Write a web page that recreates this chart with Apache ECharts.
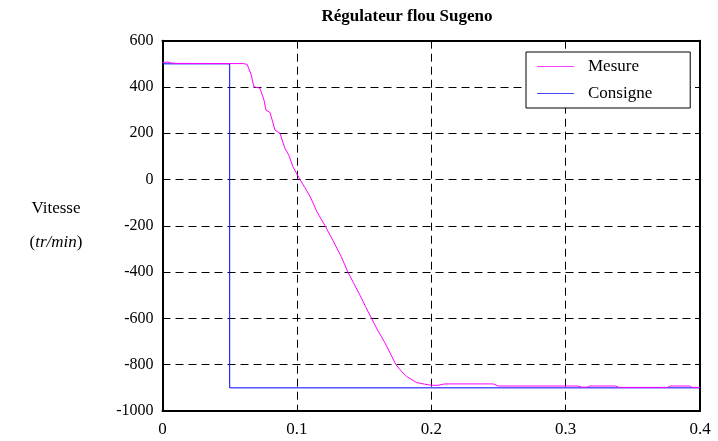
<!DOCTYPE html>
<html>
<head>
<meta charset="utf-8">
<script src="https://cdn.jsdelivr.net/npm/echarts@6/dist/echarts.min.js"></script>
<style>html,body{margin:0;padding:0;background:#fff;}#c{width:718px;height:441px;}</style>
</head>
<body>
<div id="c"></div>
<script>
const titleText = 'Régulateur flou Sugeno';
const xTicks = [0, 0.1, 0.2, 0.3, 0.4];
const yTicks = [-1000, -800, -600, -400, -200, 0, 200, 400, 600];
const mesureT = [0, 0.004, 0.006, 0.01, 0.06, 0.063, 0.066, 0.068, 0.0725, 0.0755, 0.077, 0.080, 0.0837, 0.0874, 0.091, 0.094, 0.097, 0.1023, 0.106, 0.110, 0.115, 0.121, 0.127, 0.133, 0.138, 0.142, 0.147, 0.151, 0.1556, 0.160, 0.165, 0.169, 0.1737, 0.1780, 0.1817, 0.189, 0.195, 0.200, 0.205, 0.210, 0.246, 0.250, 0.309, 0.312, 0.316, 0.318, 0.337, 0.340, 0.376, 0.378, 0.392, 0.394, 0.4];
const mesureV = [505, 508, 504, 502, 501, 498, 452, 401, 395, 344, 300, 290, 214, 200, 136, 105, 56, 0, -35, -75, -140, -200, -265, -333, -400, -445, -500, -548, -600, -650, -700, -745, -800, -830, -851, -877, -884, -889, -889, -883, -883, -892, -892, -897, -897, -892, -892, -898, -898, -892, -892, -898, -898];
const consigneT = [0, 0.05, 0.05, 0.4];
const consigneV = [500, 500, -900, -900];

const serif = 'Liberation Serif';
const chart = echarts.init(document.getElementById('c'));
const zip = (a, b) => a.map((t, i) => [t, b[i]]);
const gridDash = { color: '#000', width: 1, type: [8, 5] };
const frame = { show: true, onZero: false, lineStyle: { color: '#000', width: 2 } };
const tick = { show: true, inside: true, length: 5, lineStyle: { color: '#000' } };
const lineIcon = 'path://M0,0L37,0L37,1L0,1Z';
chart.setOption({
  backgroundColor: '#fff',
  animation: false,
  grid: { left: 162.5, right: 18, top: 40.7, bottom: 30 },
  graphic: [
    { type: 'text', x: 407, y: 17, style: { text: titleText, font: 'bold 17px "Liberation Serif"', fill: '#000', textAlign: 'center', textVerticalAlign: 'middle' } },
    { type: 'text', x: 56, y: 209, style: { text: 'Vitesse', font: '17px "Liberation Serif"', fill: '#000', textAlign: 'center', textVerticalAlign: 'middle' } },
    { type: 'text', x: 56, y: 243, style: { text: '{n|(}{i|tr/min}{n|)}', rich: { n: { fontFamily: serif, fontSize: 17, color: '#000' }, i: { fontFamily: serif, fontSize: 17, fontStyle: 'italic', color: '#000' } }, fill: '#000', textAlign: 'center', textVerticalAlign: 'middle' } }
  ],
  legend: {
    orient: 'vertical', left: 526, top: 52,
    data: [
      { name: 'Mesure', icon: lineIcon, itemStyle: { color: '#ff40ff', borderWidth: 0 }, lineStyle: { color: '#ff40ff', width: 1.5 } },
      { name: 'Consigne', icon: lineIcon, itemStyle: { color: '#4848ff', borderWidth: 0 }, lineStyle: { color: '#4848ff', width: 1.5 } }
    ],
    itemWidth: 37, itemHeight: 12, itemGap: 10,
    padding: [6, 38, 6, 11],
    borderColor: '#000', borderWidth: 1, backgroundColor: '#fff', borderRadius: 0,
    textStyle: { fontFamily: serif, fontSize: 17, color: '#000', padding: [0, 0, 0, 9] }
  },
  xAxis: [
    { type: 'value', min: 0, max: 0.4, interval: 0.1, position: 'bottom',
      axisLine: frame, axisTick: tick,
      axisLabel: { fontFamily: serif, fontSize: 17, color: '#000', margin: 10, formatter: v => xTicks.includes(+v.toFixed(1)) ? String(+v.toFixed(1)) : '' },
      splitLine: { show: true, lineStyle: gridDash } },
    { type: 'value', min: 0, max: 0.4, interval: 0.1, position: 'top',
      axisLine: frame, axisTick: tick,
      axisLabel: { show: false }, splitLine: { show: false } }
  ],
  yAxis: [
    { type: 'value', min: -1000, max: 600, interval: 200, position: 'left',
      axisLine: frame, axisTick: tick,
      axisLabel: { fontFamily: serif, fontSize: 16, color: '#000', margin: 9, formatter: v => yTicks.includes(v) ? String(v) : '' },
      splitLine: { show: true, lineStyle: gridDash } },
    { type: 'value', min: -1000, max: 600, interval: 200, position: 'right',
      axisLine: frame, axisTick: tick,
      axisLabel: { show: false }, splitLine: { show: false } }
  ],
  series: [
    { name: 'Mesure', type: 'line', data: zip(mesureT, mesureV), showSymbol: false, symbol: 'none',
      lineStyle: { color: '#ff00ff', width: 1 }, itemStyle: { color: '#ff00ff' }, z: 3 },
    { name: 'Consigne', type: 'line', data: zip(consigneT, consigneV), showSymbol: false, symbol: 'none',
      lineStyle: { color: '#0000ff', width: 1 }, itemStyle: { color: '#0000ff' }, z: 2 }
  ]
});
</script>
</body>
</html>
